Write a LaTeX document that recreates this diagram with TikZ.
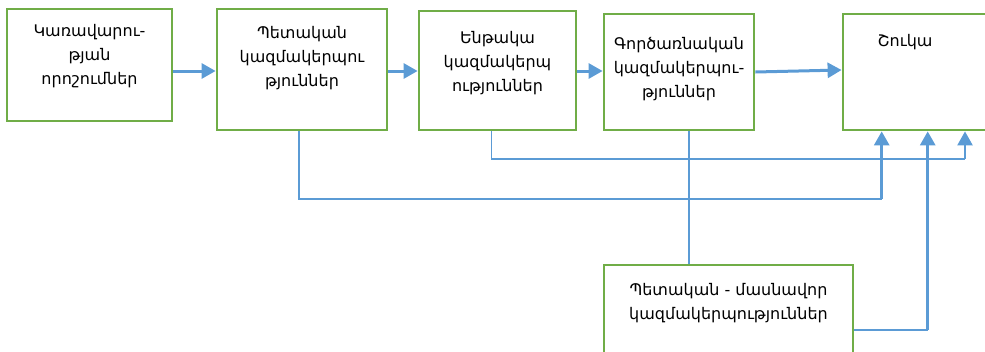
\documentclass[tikz,border=0pt]{standalone}
\usepackage{fontspec}
\setmainfont{DejaVu Sans}
\usetikzlibrary{arrows.meta}
\definecolor{gr}{HTML}{70AD47}
\definecolor{bl}{HTML}{5B9BD5}
\begin{document}
\begin{tikzpicture}[x=1pt,y=-1pt,
  box/.style={draw=gr,line width=2.8pt,fill=white,inner sep=0pt,rectangle},
  txt/.style={align=center,inner sep=0pt,anchor=north,font=\fontsize{16}{24}\selectfont},
  thinline/.style={draw=bl,line width=1.4pt},
  arr/.style={draw=bl,line width=3pt,-{Triangle[length=14pt,width=15pt]}}]
\useasboundingbox (0,0) rectangle (985,351);
\clip (0,0) rectangle (985,351);
% boxes
\node[box,minimum width=165pt,minimum height=112pt] (b1) at (89.5,65) {};
\node[box,minimum width=170pt,minimum height=121pt] (b2) at (302,69.5) {};
\node[box,minimum width=157pt,minimum height=119pt] (b3) at (497.5,70.5) {};
\node[box,minimum width=150pt,minimum height=116pt] (b4) at (679,72) {};
\node[box,minimum width=160pt,minimum height=116pt] (b5) at (923,72) {};
\node[box,minimum width=249pt,minimum height=100pt] (b6) at (728.5,315) {};
% texts
\node[txt] (t1) at (89.5,24) {Կառավարու-\\թյան\\որոշումներ};
\node[txt] (t2) at (302,26) {Պետական\\կազմակերպու\\թյուններ};
\node[txt] (t3) at (497.5,31) {Ենթակա\\կազմակերպ\\ություններ};
\node[txt] (t4) at (679,37) {Գործառնական\\կազմակերպու-\\թյուններ};
\node[txt] (t5) at (905,34) {Շուկա};
\node[txt] (t6) at (728.5,283) {Պետական - մասնավոր\\կազմակերպություններ};
% top arrows
\coordinate (a12) at (0,71);
\draw[arr] (b1.east |- a12) -- (b2.west |- a12);
\draw[arr] (b2.east |- a12) -- (b3.west |- a12);
\draw[arr] (b3.east |- a12) -- (b4.west |- a12);
\draw[arr] (b4.east) -- ([yshift=2pt]b5.west);
% lower connectors
\coordinate (v2) at (299,0);
\coordinate (c1) at (881.7,199);
\draw[thinline] (v2 |- b2.south) |- (c1);
\draw[arr] (c1) -- (c1 |- b5.south);
\coordinate (v3) at (491.7,0);
\coordinate (c2) at (965,159);
\draw[thinline] (v3 |- b3.south) |- (c2);
\draw[arr,line width=2.4pt] (c2) -- (c2 |- b5.south);
\coordinate (c3) at (689,0);
\draw[thinline] (c3 |- b4.south) -- (c3 |- b6.north);
\coordinate (c4) at (927.7,330);
\draw[thinline] (b6.east |- c4) -- (c4);
\draw[arr] (c4) -- (c4 |- b5.south);
\end{tikzpicture}
\end{document}
